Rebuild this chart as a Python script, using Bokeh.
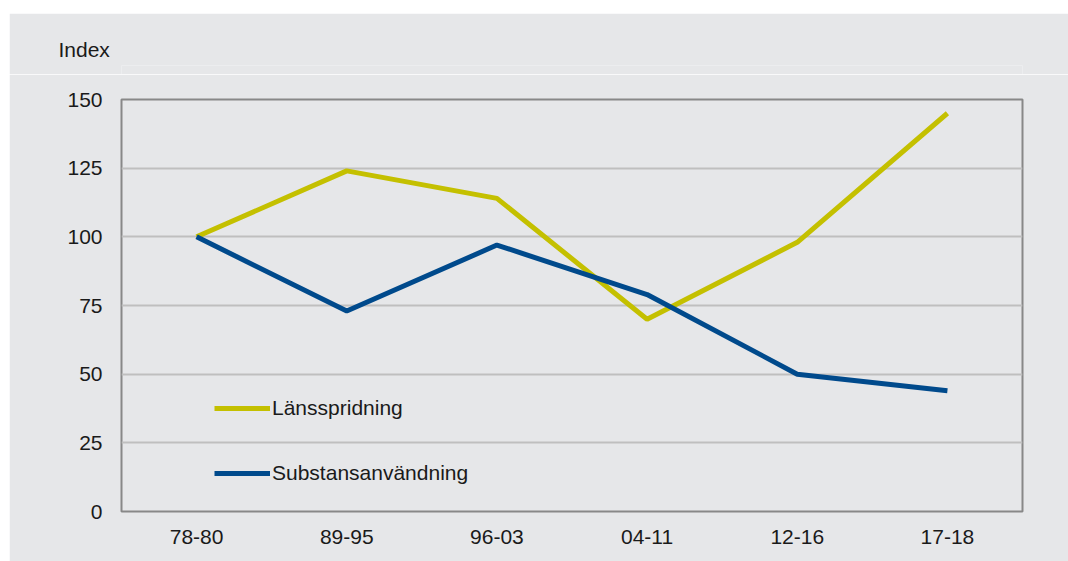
from bokeh.plotting import figure
from bokeh.models import Legend, LegendItem, Title, Range1d, FixedTicker, Spacer
from bokeh.layouts import column, row
from bokeh.embed import file_html
from bokeh.resources import INLINE

categories = ["78-80", "89-95", "96-03", "04-11", "12-16", "17-18"]
lansspridning = [100, 124, 114, 70, 98, 145]
substans = [100, 73, 97, 79, 50, 44]
y_ticks = [0, 25, 50, 75, 100, 125, 150]
unit_label = "Index"

BG = "#e6e7e9"
FONT = "Liberation Sans"
FS = "21px"
W = 1059
HEAD_H = 61

# header strip carrying the unit label
head = figure(width=W, height=HEAD_H, x_range=Range1d(0, 1), y_range=Range1d(0, 1),
              output_backend="svg", toolbar_location=None,
              min_border_left=0, min_border_right=0, min_border_top=52, min_border_bottom=0)
head.axis.visible = False
head.grid.grid_line_color = None
head.outline_line_color = None
head.background_fill_color = BG
head.border_fill_color = BG
head.add_layout(Title(text=unit_label, align="left", offset=-63, standoff=10,
                      text_font=FONT, text_font_size=FS, text_font_style="normal",
                      text_color="#1a1a1a"), "above")

p = figure(x_range=categories, y_range=Range1d(0, 150), width=W, height=561 - 13 - HEAD_H,
           output_backend="svg", toolbar_location=None,
           min_border_left=112, min_border_right=46, min_border_top=99 - 13 - HEAD_H,
           min_border_bottom=50)
p.background_fill_color = BG
p.border_fill_color = BG
p.outline_line_color = "#888888"
p.outline_line_width = 2

p.xgrid.grid_line_color = None
p.ygrid.grid_line_color = "#bfbfbf"
p.ygrid.grid_line_width = 2
p.yaxis.ticker = FixedTicker(ticks=y_ticks)

for ax in (p.xaxis, p.yaxis):
    ax.axis_line_color = None
    ax.major_tick_line_color = None
    ax.minor_tick_line_color = None
    ax.major_tick_out = 0
    ax.major_tick_in = 0
    ax.minor_tick_out = 0
    ax.major_label_text_font = FONT
    ax.major_label_text_font_size = FS
    ax.major_label_text_color = "#1a1a1a"
p.yaxis.major_label_standoff = 19
p.xaxis.major_label_standoff = 18

r1 = p.line(categories, lansspridning, line_color="#c4c000", line_width=5)
r2 = p.line(categories, substans, line_color="#004a8c", line_width=5)

legend = Legend(items=[LegendItem(label="Länsspridning", renderers=[r1]),
                       LegendItem(label="Substansanvändning", renderers=[r2])],
                location=(93, 26), glyph_width=56, glyph_height=20, label_height=20,
                label_standoff=2, spacing=41, padding=0, margin=0,
                border_line_alpha=0, background_fill_alpha=0,
                label_text_font=FONT, label_text_font_size=FS, label_text_color="#1a1a1a")
p.add_layout(legend, "center")

layout = row(Spacer(width=9), column(Spacer(height=13), head, p))
open("out.html", "w").write(file_html(layout, INLINE))
